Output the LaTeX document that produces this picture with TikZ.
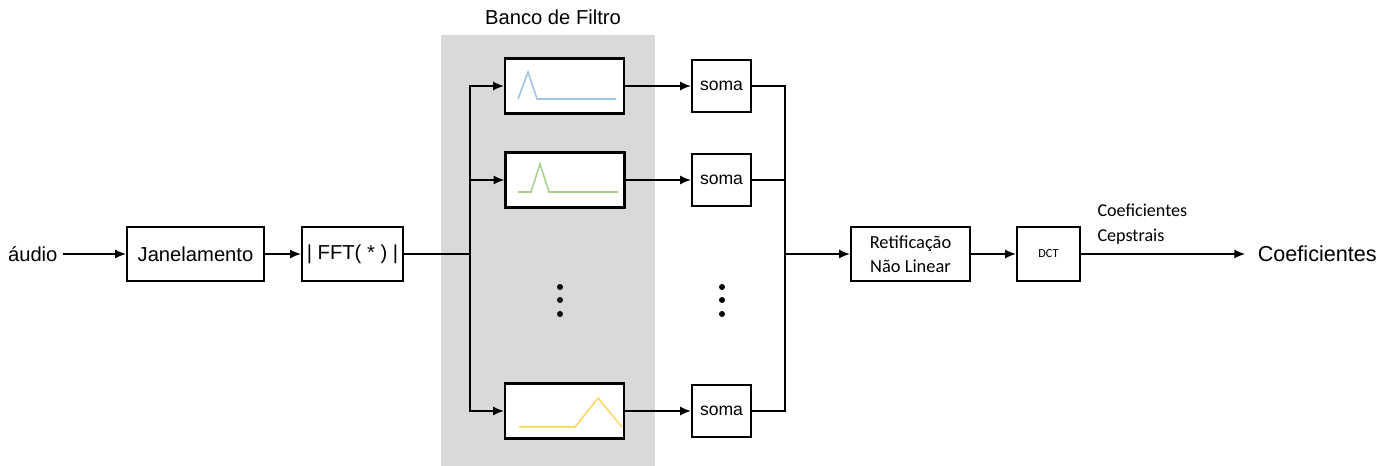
\documentclass[tikz,border=0pt]{standalone}
\usepackage{fontspec}
\setmainfont{Liberation Sans}
\newfontfamily\calibri{Carlito}
\usetikzlibrary{arrows.meta, positioning, calc}

\definecolor{cinza}{HTML}{D9D9D9}
\definecolor{azulfiltro}{HTML}{9DC3E6}
\definecolor{verdefiltro}{HTML}{A9D18E}
\definecolor{amarelofiltro}{HTML}{FFD966}

\tikzset{
  bloco/.style={draw, line width=1.4pt, fill=white, inner sep=0pt,
    minimum height=1.08cm, font=\fontsize{11.5}{13}\selectfont},
  filtro/.style={bloco, minimum width=2.38cm, minimum height=1.1cm},
  somador/.style={bloco, minimum width=1.18cm, minimum height=1.04cm,
    font=\fontsize{10}{12}\selectfont},
  curva/.style={line width=0.9pt},
  rotulo/.style={inner sep=0pt, font=\fontsize{11.5}{13}\selectfont}
}

\begin{document}
\begin{tikzpicture}[x=0.02cm, y=-0.02cm, >={Latex[length=6pt,width=5pt]}, line width=0.6pt]
  \useasboundingbox (0,0) rectangle (1393,466);
  % fundo do banco de filtro
  \fill[cinza] (441,35) rectangle (655,466);
  \node[rotulo] (titulo) at (553,17) {Banco de Filtro};

  % entrada
  \node[rotulo, anchor=east] (audio) at (58,254) {áudio};
  \node[bloco, minimum width=2.74cm] (jan) at (195.5,254) {Janelamento};
  \node[bloco, minimum width=2.02cm] (fft) at (352.5,254) {| FFT( * ) |};

  % filtros triangulares
  \node[filtro] (f1) at (564.5,86) {};
  \node[filtro] (f2) at (565,180) {};
  \node[filtro] (f3) at (564.5,411) {};
  \draw[curva, azulfiltro] (518,99) -- (528,72) -- (537,99) -- (616,99);
  \draw[curva, verdefiltro] (518,192) -- (531,192) -- (540,164) -- (549,192) -- (618,192);
  \draw[curva, amarelofiltro] (519,427) -- (575,427) -- (598,398) -- (622,427);

  % somas
  \node[somador] (s1) at (721.5,86) {soma};
  \node[somador] (s2) at (721.5,180) {soma};
  \node[somador] (s3) at (721.5,411) {soma};

  % reticencias
  \foreach \xp in {560,722}
    \foreach \yp in {287,300,314}
      \fill (\xp,\yp) circle (3);

  % saida
  \node[bloco, minimum width=2.38cm, align=center,
    font=\calibri\fontsize{10.5}{13.5}\selectfont] (ret) at (910.5,254)
    {Retificação\\Não Linear};
  \node[bloco, minimum width=1.26cm, font=\calibri\fontsize{7}{8}\selectfont]
    (dct) at (1048.5,254) {DCT};
  \node[rotulo, anchor=west, inner xsep=7pt, font=\fontsize{12.3}{14}\selectfont]
    (coef) at (1245,254) {Coeficientes};
  \node[anchor=west, inner sep=0pt, align=left,
    font=\calibri\fontsize{10.3}{14}\selectfont] (cepstrais) at (1097,224)
    {Coeficientes\\Cepstrais};

  % ligacoes
  \coordinate (ramo) at (470,254);
  \coordinate (junta) at (785,254);
  \draw[->, shorten <=3pt] (audio) -- (jan);
  \draw[->] (jan) -- (fft);
  \draw (fft) -- (ramo);
  \draw[->] (ramo) |- (f1);
  \draw[->] (ramo) |- (f2);
  \draw[->] (ramo) |- (f3);
  \draw[->] (f1) -- (s1);
  \draw[->] (f2) -- (s2);
  \draw[->] (f3) -- (s3);
  \draw (s1) -| (junta);
  \draw (s2) -| (junta);
  \draw (s3) -| (junta);
  \draw[->] (junta) -- (ret);
  \draw[->] (ret) -- (dct);
  \draw[->] (dct) -- (coef);
\end{tikzpicture}
\end{document}
